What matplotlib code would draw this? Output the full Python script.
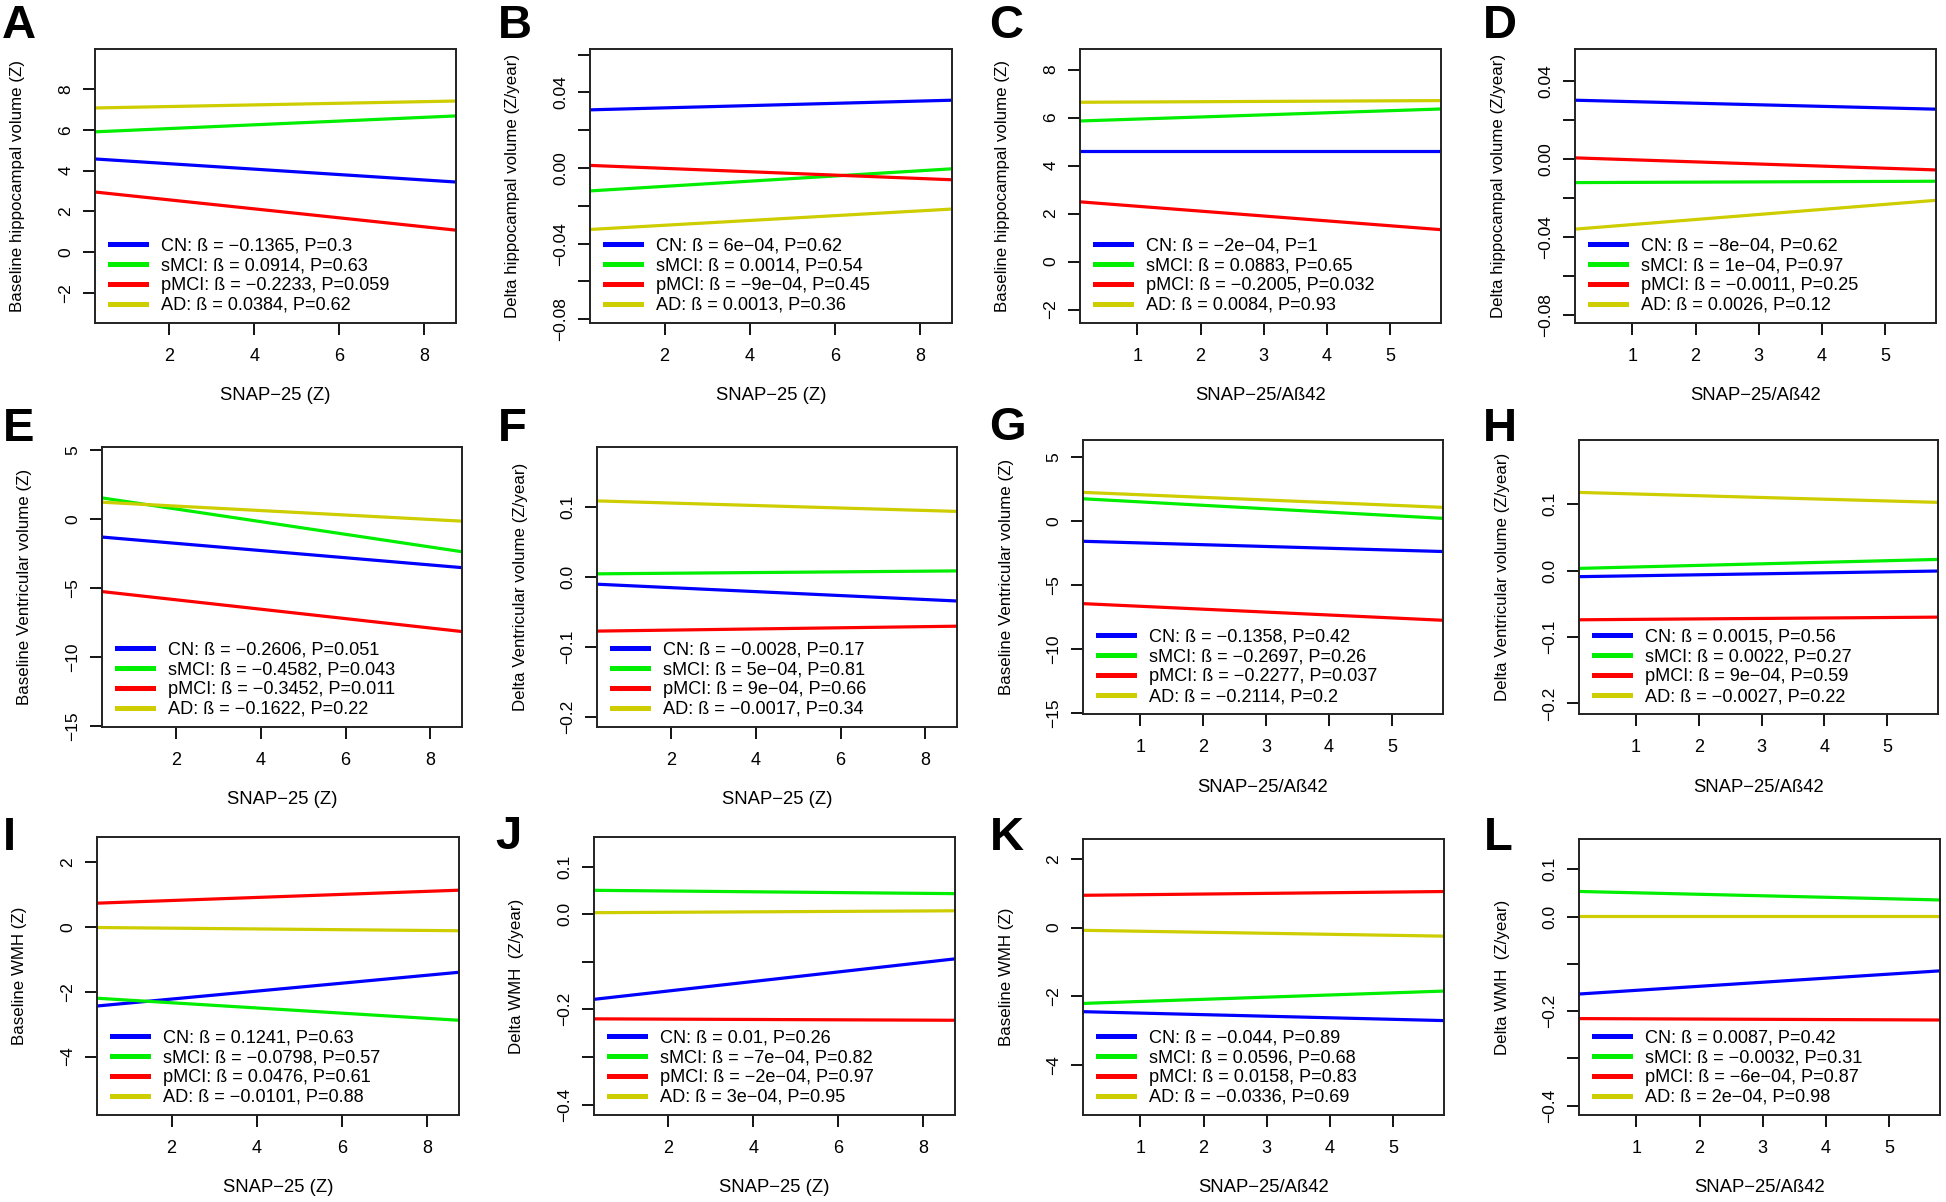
import matplotlib
matplotlib.use("Agg")
from matplotlib import pyplot as plt
from matplotlib.lines import Line2D

plt.rcParams['font.family'] = ['Liberation Sans', 'DejaVu Sans']

# ---- data ----
panel_letters = ['A', 'B', 'C', 'D', 'E', 'F', 'G', 'H', 'I', 'J', 'K', 'L']
groups = ['CN', 'sMCI', 'pMCI', 'AD']
group_colors = ['#0000FF', '#00EE00', '#FF0000', '#CDCD00']

x_labels = ['SNAP−25 (Z)', 'SNAP−25 (Z)', 'SNAP−25/Aß42', 'SNAP−25/Aß42'] * 3
y_labels = ['Baseline hippocampal volume (Z)', 'Delta hippocampal volume (Z/year)',
            'Baseline hippocampal volume (Z)', 'Delta hippocampal volume (Z/year)',
            'Baseline Ventricular volume (Z)', 'Delta Ventricular volume (Z/year)',
            'Baseline Ventricular volume (Z)', 'Delta Ventricular volume (Z/year)',
            'Baseline WMH (Z)', 'Delta WMH  (Z/year)',
            'Baseline WMH (Z)', 'Delta WMH  (Z/year)']

x_limits = [(0.25, 8.75), (0.25, 8.75), (0.09, 5.81), (0.09, 5.81)] * 3
y_limits = [(-3.47, 9.96), (-0.082, 0.063), (-2.56, 8.86), (-0.0841, 0.0566),
            (-15.05, 5.19), (-0.214, 0.186), (-15.05, 6.35), (-0.216, 0.197),
            (-5.80, 2.77), (-0.422, 0.162), (-5.46, 2.58), (-0.42, 0.164)]

x_ticks = [[2, 4, 6, 8], [2, 4, 6, 8], [1, 2, 3, 4, 5], [1, 2, 3, 4, 5]] * 3
y_ticks = [[-2, 0, 2, 4, 6, 8], [-0.08, -0.06, -0.04, -0.02, 0, 0.02, 0.04, 0.06],
           [-2, 0, 2, 4, 6, 8], [-0.08, -0.06, -0.04, -0.02, 0, 0.02, 0.04],
           [-15, -10, -5, 0, 5], [-0.2, -0.1, 0, 0.1],
           [-15, -10, -5, 0, 5], [-0.2, -0.1, 0, 0.1],
           [-4, -2, 0, 2], [-0.4, -0.3, -0.2, -0.1, 0, 0.1],
           [-4, -2, 0, 2], [-0.4, -0.3, -0.2, -0.1, 0, 0.1]]
y_tick_labels = [['−2', '0', '2', '4', '6', '8'],
                 ['−0.08', '', '−0.04', '', '0.00', '', '0.04', ''],
                 ['−2', '0', '2', '4', '6', '8'],
                 ['−0.08', '', '−0.04', '', '0.00', '', '0.04'],
                 ['−15', '−10', '−5', '0', '5'], ['−0.2', '−0.1', '0.0', '0.1'],
                 ['−15', '−10', '−5', '0', '5'], ['−0.2', '−0.1', '0.0', '0.1'],
                 ['−4', '−2', '0', '2'], ['−0.4', '', '−0.2', '', '0.0', '0.1'],
                 ['−4', '−2', '0', '2'], ['−0.4', '', '−0.2', '', '0.0', '0.1']]

# fitted line values at left / right edge of each panel (CN, sMCI, pMCI, AD)
line_start = [[4.57, 5.90, 2.95, 7.07],
              [0.0308, -0.0121, 0.0014, -0.0325],
              [4.62, 5.86, 2.49, 6.64],
              [0.0303, -0.0120, 0.0007, -0.0359],
              [-1.32, 1.51, -5.26, 1.20],
              [-0.010, 0.0048, -0.077, 0.109],
              [-1.56, 1.76, -6.43, 2.26],
              [-0.009, 0.0035, -0.074, 0.118],
              [-2.44, -2.20, 0.73, -0.02],
              [-0.179, 0.050, -0.220, 0.003],
              [-2.45, -2.21, 0.94, -0.08],
              [-0.164, 0.053, -0.216, 0.001]]
line_end = [[3.44, 6.68, 1.08, 7.41],
            [0.0359, -0.0004, -0.0062, -0.0217],
            [4.62, 6.36, 1.33, 6.71],
            [0.0257, -0.0113, -0.0055, -0.0211],
            [-3.53, -2.38, -8.15, -0.17],
            [-0.034, 0.009, -0.070, 0.094],
            [-2.36, 0.23, -7.73, 1.09],
            [-0.0005, 0.017, -0.070, 0.103],
            [-1.40, -2.88, 1.13, -0.12],
            [-0.094, 0.043, -0.223, 0.007],
            [-2.71, -1.85, 1.05, -0.25],
            [-0.115, 0.035, -0.219, 0.001]]

betas = [['−0.1365', '0.0914', '−0.2233', '0.0384'],
         ['6e−04', '0.0014', '−9e−04', '0.0013'],
         ['−2e−04', '0.0883', '−0.2005', '0.0084'],
         ['−8e−04', '1e−04', '−0.0011', '0.0026'],
         ['−0.2606', '−0.4582', '−0.3452', '−0.1622'],
         ['−0.0028', '5e−04', '9e−04', '−0.0017'],
         ['−0.1358', '−0.2697', '−0.2277', '−0.2114'],
         ['0.0015', '0.0022', '9e−04', '−0.0027'],
         ['0.1241', '−0.0798', '0.0476', '−0.0101'],
         ['0.01', '−7e−04', '−2e−04', '3e−04'],
         ['−0.044', '0.0596', '0.0158', '−0.0336'],
         ['0.0087', '−0.0032', '−6e−04', '2e−04']]
p_values = [['0.3', '0.63', '0.059', '0.62'],
            ['0.62', '0.54', '0.45', '0.36'],
            ['1', '0.65', '0.032', '0.93'],
            ['0.62', '0.97', '0.25', '0.12'],
            ['0.051', '0.043', '0.011', '0.22'],
            ['0.17', '0.81', '0.66', '0.34'],
            ['0.42', '0.26', '0.037', '0.2'],
            ['0.56', '0.27', '0.59', '0.22'],
            ['0.63', '0.57', '0.61', '0.88'],
            ['0.26', '0.82', '0.97', '0.95'],
            ['0.89', '0.68', '0.83', '0.69'],
            ['0.42', '0.31', '0.87', '0.98']]

# ---- layout (pixel boxes: left, top, right, bottom) ----
W, H = 1946, 1202
boxes = [(95, 49, 456, 323), (590, 49, 952, 323), (1080, 49, 1441, 323), (1575, 49, 1936, 323),
         (102, 447, 462, 727), (597, 447, 957, 727), (1083, 440, 1443, 714), (1579, 440, 1938, 714),
         (97, 837, 459, 1115), (594, 837, 955, 1115), (1083, 839, 1444, 1115), (1579, 839, 1940, 1115)]
letter_pos = [(2, 38), (498, 38), (989, 38), (1483, 38),
              (3, 441), (498, 441), (989, 440), (1483, 441),
              (3, 850), (495, 849), (990, 850), (1484, 850)]

fig = plt.figure(figsize=(W / 100, H / 100), dpi=100)

for i in range(12):
    l, t, r, b = boxes[i]
    w, h = r - l, b - t
    ax = fig.add_axes([l / W, 1 - b / H, w / W, h / H])
    x0, x1 = x_limits[i]
    for g in range(4):
        ax.plot([x0, x1], [line_start[i][g], line_end[i][g]], color=group_colors[g], lw=2.3,
                solid_capstyle='butt')
    ax.set_xlim(x0, x1)
    ax.set_ylim(*y_limits[i])
    ax.set_xticks(x_ticks[i])
    ax.set_xticklabels([str(v) for v in x_ticks[i]], fontsize=13)
    ax.set_yticks(y_ticks[i])
    ax.set_yticklabels(y_tick_labels[i], rotation=90, va='center', fontsize=12.5)
    ax.tick_params(direction='out', length=8.6, width=1.3, colors='black')
    ax.tick_params(axis='x', pad=9.5)
    ax.tick_params(axis='y', pad=7)
    for s in ax.spines.values():
        s.set_linewidth(1.4)
        s.set_color('#222222')

    handles = [Line2D([0], [0], color=group_colors[g], lw=3.6) for g in range(4)]
    labels = [f'{groups[g]}: ß = {betas[i][g]}, P={p_values[i][g]}' for g in range(4)]
    ax.legend(handles, labels, loc='lower left', frameon=False, fontsize=13.1,
              bbox_to_anchor=(15 / w, 9 / h), borderpad=0, borderaxespad=0,
              handlelength=1.98, handletextpad=0.82, labelspacing=0.15)

    fig.text((l + r) / 2 / W, 1 - (b + 73) / H, x_labels[i], ha='center', va='center', fontsize=13.3)
    fig.text((l - 77) / W, 1 - (t + b) / 2 / H, y_labels[i], ha='center', va='center',
             rotation=90, fontsize=12.2)
    lx, ly = letter_pos[i]
    fig.text(lx / W, 1 - ly / H, panel_letters[i], ha='left', va='baseline', fontsize=34,
             fontweight='bold')

fig.savefig('out.png', dpi=100)
